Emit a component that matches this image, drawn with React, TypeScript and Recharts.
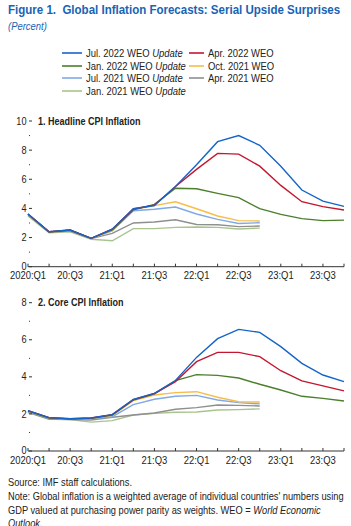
import React from 'react'
import { LineChart, Line, XAxis, YAxis } from 'recharts'

const FONT = '"Liberation Sans", Arial, sans-serif'
const SQUEEZE = 0.9 // the source font is a condensed grotesque
const BLUE_TITLE = '#1763b5'
const INK = '#222'

// quarters 2020:Q1 .. 2023:Q4, only every other one gets a label
const quarters = [
    '2020:Q1', '20:Q2', '20:Q3', '20:Q4', '21:Q1', '21:Q2', '21:Q3', '21:Q4',
    '22:Q1', '22:Q2', '22:Q3', '22:Q4', '23:Q1', '23:Q2', '23:Q3', '23:Q4'
]

// 1. Headline CPI inflation
const headJul22 = [3.62, 2.4, 2.52, 1.95, 2.57, 3.98, 4.2, 5.5, 7.0, 8.58, 9.0, 8.33, 6.9, 5.26, 4.5, 4.14]
const headApr22 = [3.62, 2.4, 2.52, 1.95, 2.57, 3.96, 4.22, 5.5, 6.68, 7.78, 7.73, 6.9, 5.58, 4.46, 4.12, 3.89]
const headJan22 = [3.6, 2.38, 2.5, 1.95, 2.52, 3.9, 4.28, 5.38, 5.35, 5.03, 4.74, 3.98, 3.59, 3.3, 3.16, 3.2]
const headOct21 = [3.6, 2.38, 2.5, 1.95, 2.5, 3.92, 4.19, 4.46, 3.98, 3.48, 3.16, 3.14]
const headJul21 = [3.6, 2.38, 2.5, 1.95, 2.45, 3.84, 3.94, 4.1, 3.62, 3.25, 2.97, 3.02]
const headApr21 = [3.55, 2.38, 2.45, 1.93, 2.29, 3.0, 3.07, 3.22, 2.9, 2.88, 2.75, 2.79]
const headJan21 = [3.48, 2.33, 2.4, 1.88, 1.78, 2.61, 2.61, 2.7, 2.72, 2.7, 2.59, 2.65]

// 2. Core CPI inflation
const coreJul22 = [2.18, 1.8, 1.74, 1.78, 1.96, 2.79, 3.11, 3.8, 5.05, 6.06, 6.56, 6.4, 5.63, 4.73, 4.1, 3.74]
const coreApr22 = [2.18, 1.8, 1.74, 1.78, 1.96, 2.77, 3.1, 3.74, 4.82, 5.32, 5.32, 5.09, 4.33, 3.78, 3.51, 3.24]
const coreJan22 = [2.15, 1.78, 1.73, 1.77, 1.94, 2.75, 3.08, 3.8, 4.12, 4.08, 3.94, 3.6, 3.29, 2.95, 2.84, 2.7]
const coreOct21 = [2.15, 1.78, 1.73, 1.76, 1.92, 2.72, 3.02, 3.15, 3.2, 2.9, 2.66, 2.64]
const coreJul21 = [2.13, 1.76, 1.72, 1.75, 1.85, 2.5, 2.79, 2.95, 3.0, 2.75, 2.61, 2.54]
const coreApr21 = [2.1, 1.72, 1.7, 1.67, 1.82, 1.94, 2.05, 2.25, 2.34, 2.48, 2.46, 2.43]
const coreJan21 = [2.07, 1.71, 1.69, 1.56, 1.64, 1.94, 2.03, 2.09, 2.1, 2.21, 2.23, 2.27]

const headTicks = [0, 1, 2, 3, 4, 5, 6, 7, 8, 9, 10]
const coreTicks = [0, 1, 2, 3, 4, 5, 6, 7, 8]

const noteLines = [
    'Source: IMF staff calculations.',
    "Note: Global inflation is a weighted average of individual countries' numbers using",
    'GDP valued at purchasing power parity as weights. WEO = ',
]

// drawn back to front
const SERIES = [
    { key: 'jan21', label: 'Jan. 2021 WEO', update: true, color: '#a8c48e' },
    { key: 'apr21', label: 'Apr. 2021 WEO', update: false, color: '#8f8f8f' },
    { key: 'jul21', label: 'Jul. 2021 WEO', update: true, color: '#80a9e6' },
    { key: 'oct21', label: 'Oct. 2021 WEO', update: false, color: '#f6bd4a' },
    { key: 'jan22', label: 'Jan. 2022 WEO', update: true, color: '#4b7f2b' },
    { key: 'apr22', label: 'Apr. 2022 WEO', update: false, color: '#c4162f' },
    { key: 'jul22', label: 'Jul. 2022 WEO', update: true, color: '#1565c8' },
]

const LEGEND_ROWS = [['jul22', 'apr22'], ['jan22', 'oct21'], ['jul21', 'apr21'], ['jan21']]

function buildRows(s: Record<string, number[]>) {
    return quarters.map((q, i) => {
        const row: any = { q }
        Object.keys(s).forEach(k => { row[k] = s[k][i] ?? null })
        return row
    })
}

const headData = buildRows({
    jul22: headJul22, apr22: headApr22, jan22: headJan22, oct21: headOct21,
    jul21: headJul21, apr21: headApr21, jan21: headJan21
})
const coreData = buildRows({
    jul22: coreJul22, apr22: coreApr22, jan22: coreJan22, oct21: coreOct21,
    jul21: coreJul21, apr21: coreApr21, jan21: coreJan21
})

// squeezed svg text
function SText({ x, y, anchor = 'start', size = 10.5, bold = false, children }: any) {
    return (
        <text transform={`translate(${x},${y}) scale(${SQUEEZE},1)`} textAnchor={anchor} fontSize={size}
            fontWeight={bold ? 'bold' : 'normal'} fill={INK} fontFamily={FONT}>{children}</text>
    )
}

// squeezed html text, (x, y) is the top-left corner
function Narrow({ x, y, style, children }: any) {
    return (
        <div style={{
            position: 'absolute', left: x, top: y, whiteSpace: 'nowrap', transform: `scaleX(${SQUEEZE})`,
            transformOrigin: '0 0', fontFamily: FONT, ...style
        }}>{children}</div>
    )
}

function LeftTick({ x, y, payload }: any) {
    const v = payload.value
    const major = v % 2 === 0
    return (
        <g>
            <line x1={x + 1} x2={x + (major ? 4 : 2)} y1={y} y2={y} stroke="#333" strokeWidth={1} />
            {major && <SText x={x - 1.5} y={y + (v === 0 ? 2.8 : 3.6)} anchor="end" size={10.2}>{v}</SText>}
        </g>
    )
}

function RightTick({ x, y, payload }: any) {
    const major = payload.value % 2 === 0
    return <line x1={x - (major ? 3 : 1.5)} x2={x} y1={y} y2={y} stroke="#333" strokeWidth={1} />
}

function BottomTick({ x, y, payload, index }: any) {
    return (
        <g>
            <line x1={x} x2={x} y1={y} y2={y - 3} stroke="#333" strokeWidth={1} />
            {index % 2 === 0 && <SText x={x} y={y + 12.5} anchor="middle">{payload.value}</SText>}
        </g>
    )
}

function Panel({ data, ticks, max, title, height, top, bottom }: any) {
    return (
        <LineChart width={351} height={height} data={data} margin={{ top, right: 0, left: 0, bottom }}>
            <XAxis dataKey="q" interval={0} tickSize={0} tickMargin={0} tickLine={false}
                axisLine={{ stroke: '#333', strokeWidth: 1 }} tick={<BottomTick />} height={20} />
            <YAxis yAxisId="l" domain={[0, max]} ticks={ticks} interval={0} width={28} tickSize={0} tickMargin={0}
                tickLine={false} axisLine={false} tick={<LeftTick />} />
            <YAxis yAxisId="r" orientation="right" domain={[0, max]} ticks={ticks} interval={0} width={7}
                tickSize={0} tickMargin={0} tickLine={false} axisLine={false} tick={<RightTick />} />
            {SERIES.map(s => (
                <Line key={s.key} yAxisId="l" dataKey={s.key} stroke={s.color} strokeWidth={1.4} dot={false}
                    type="linear" isAnimationActive={false} connectNulls={false} />
            ))}
            <SText x={38} y={top + 3.5} size={10} bold>{title}</SText>
        </LineChart>
    )
}

export default function App() {
    const abs = (top: number): React.CSSProperties => ({ position: 'absolute', left: 0, top })
    return (
        <div style={{ position: 'absolute', left: 0, top: 0, width: 351, height: 526, background: '#fff', overflow: 'hidden', fontFamily: FONT }}>
            <Narrow x={8} y={2} style={{ fontSize: 12.8, fontWeight: 'bold', color: BLUE_TITLE, lineHeight: '16px' }}>
                Figure 1.&nbsp; Global Inflation Forecasts: Serial Upside Surprises
            </Narrow>
            <Narrow x={8} y={19} style={{ fontSize: 10.5, fontStyle: 'italic', color: BLUE_TITLE, lineHeight: '14px' }}>
                (Percent)
            </Narrow>

            {LEGEND_ROWS.map((row, r) => row.map((k, c) => {
                const s = SERIES.find(d => d.key === k)!
                const lx = c === 0 ? 62 : 189
                const lw = c === 0 ? 20 : 15
                const cy = 53.3 + r * 12.5
                return (
                    <React.Fragment key={k}>
                        <svg width={lw} height={4} style={{ position: 'absolute', left: lx, top: cy - 2 }}>
                            <line x1={0} x2={lw} y1={2} y2={2} stroke={s.color} strokeWidth={1.6} />
                        </svg>
                        <Narrow x={lx + lw + 4} y={cy - 7} style={{ fontSize: 10.5, lineHeight: '14px', color: INK }}>
                            {s.label}{s.update && <i> Update</i>}
                        </Narrow>
                    </React.Fragment>
                )
            }))}

            <div style={abs(0)}>
                <Panel data={headData} ticks={headTicks} max={10} title="1. Headline CPI Inflation" height={290} top={121} bottom={3.3} />
            </div>
            <div style={abs(280)}>
                <Panel data={coreData} ticks={coreTicks} max={8} title="2. Core CPI Inflation" height={195} top={22.7} bottom={4} />
            </div>

            {noteLines.map((t, i) => (
                <Narrow key={i} x={8} y={476 + i * 13.8} style={{ fontSize: 10.3, lineHeight: '14px', color: INK }}>
                    {t}{i === 2 && <i>World Economic</i>}
                </Narrow>
            ))}
            <Narrow x={8} y={476 + 3 * 13.8} style={{ fontSize: 10.3, lineHeight: '14px', color: INK }}>
                <i>Outlook</i>.
            </Narrow>
        </div>
    )
}
